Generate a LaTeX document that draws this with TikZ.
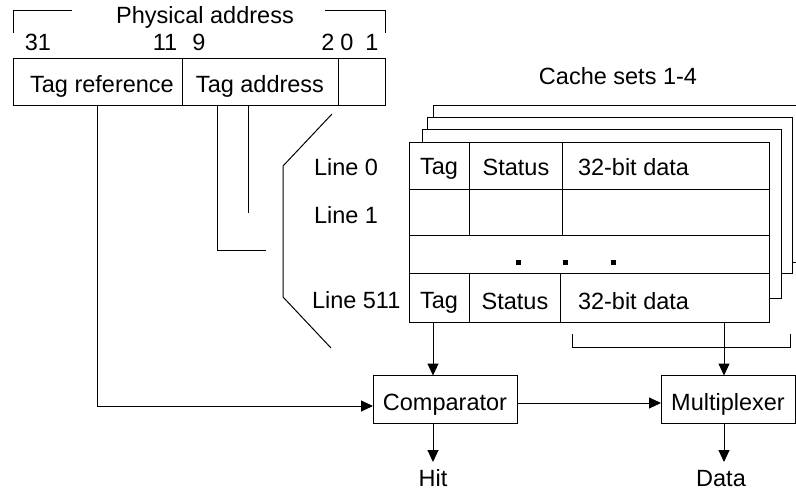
\documentclass[tikz,border=0pt]{standalone}
\usepackage{fontspec}
\setmainfont{Liberation Sans}
\usetikzlibrary{arrows.meta,fit}
\begin{document}
\begin{tikzpicture}[x=1pt,y=-1pt,
  line width=1pt,
  every node/.style={font=\fontsize{23.5}{28}\selectfont, inner sep=0pt, outer sep=0pt},
  cell/.style={draw, rectangle, inner sep=0pt, outer sep=0pt},
  lbl/.style={anchor=base},
  lblw/.style={anchor=base west},
  unit/.style={draw, rectangle, inner sep=0pt, minimum height=48pt, text height=22pt, text depth=0pt},
  arr/.style={-{Triangle[length=12pt,width=11pt]}},
  sqdot/.style={fill, rectangle, minimum size=5pt, inner sep=0pt},
  layer/.style={draw, fill=white}
]
\useasboundingbox (0,0) rectangle (796,490);

% ---- physical address word ----
\draw (13,33) -- (13,10) -- (72,10);
\draw (325,10) -- (385,10) -- (385,33);
\node[lbl] (phys) at (205,23) {Physical address};
\node[lbl] (b31) at (38,50) {31};
\node[lbl] (b11) at (165,50) {11};
\node[lbl] (b9)  at (199,50) {9};
\node[lbl] (b2)  at (328,50) {2};
\node[lbl] (b0)  at (347,50) {0};
\node[lbl] (b1)  at (372,50) {1};

\node[cell, fit={(13,58) (182,105)}] (tagref) {};
\node[cell, fit={(182,58) (338,105)}] (tagaddr) {};
\node[cell, fit={(338,58) (385,105)}] (offs) {};
\node[lbl] (tagreftxt) at (102,92) {Tag reference};
\node[lbl] (tagaddrtxt) at (260,92) {Tag address};

% ---- line index taps ----
\coordinate (tapA) at (217,105);
\coordinate (tapAend) at (266,250);
\coordinate (tapB) at (248,105);
\coordinate (tapBend) at (248,213);
\draw (tapA) |- (tapAend);
\draw (tapB) -- (tapBend);

% ---- bracket round the line labels ----
\draw (332,114) -- (283,166) -- (283,297) -- (331,348);

% ---- stacked cache sets ----
\node[lbl] (sets) at (618,84) {Cache sets 1-4};
\draw[layer] (433,105) rectangle (800,262);
\draw[layer] (427,117) rectangle (792,273);
\draw[layer] (422,129) rectangle (781,298);
\fill[white] (409,142) rectangle (769,322);

\node[cell, fit={(409,142) (469,189)}] (tag0) {};
\node[cell, fit={(469,142) (562,189)}] (st0) {};
\node[cell, fit={(562,142) (769,189)}] (dat0) {};
\node[cell, fit={(409,189) (469,235)}] (tag1) {};
\node[cell, fit={(469,189) (562,235)}] (st1) {};
\node[cell, fit={(562,189) (769,235)}] (dat1) {};
\node[cell, fit={(409,235) (769,273)}] (gap) {};
\node[cell, fit={(409,273) (469,322)}] (tag511) {};
\node[cell, fit={(469,273) (560,322)}] (st511) {};
\node[cell, fit={(560,273) (769,322)}] (dat511) {};

\node[lbl] (tag0txt) at (439,174) {Tag};
\node[lbl] (st0txt) at (516,175) {Status};
\node[lblw] (dat0txt) at (578,175) {32-bit data};
\node[lbl] (tag511txt) at (439,308) {Tag};
\node[lbl] (st511txt) at (515,309) {Status};
\node[lblw] (dat511txt) at (578,309) {32-bit data};

\node[sqdot] (d1) at (518,262) {};
\node[sqdot] (d2) at (565,262) {};
\node[sqdot] (d3) at (613,262) {};

\node[lblw] (line0) at (314,175) {Line 0};
\node[lblw] (line1) at (314,223) {Line 1};
\node[lblw] (line511) at (312,308) {Line 511};

% ---- comparator and multiplexer ----
\node[unit, minimum width=144pt] (comp) at (445,399.5) {Comparator};
\node[unit, minimum width=134pt] (mux) at (728,399.5) {Multiplexer};

\coordinate (tagtap) at (433,322);
\draw[arr] (tagtap) -- (tagtap |- comp.north);

\coordinate (refin) at (0,406);
\draw[arr] (tagref.south) |- (comp.west |- refin);

\coordinate (cm) at (0,403);
\draw[arr] (comp.east |- cm) -- (mux.west |- cm);

% data bracket feeding the multiplexer
\draw (572,334) -- (572,347) -- (790,347) -- (790,334);
\coordinate (datatap) at (724,322);
\draw[arr] (datatap) -- (datatap |- mux.north);

% ---- outputs ----
\node[lbl] (hit) at (433,486) {Hit};
\node[lbl] (data) at (721,486) {Data};
\draw[arr] (comp.south -| tagtap) -- (tagtap |- 0,462);
\draw[arr] (mux.south -| datatap) -- (datatap |- 0,462);
\end{tikzpicture}
\end{document}
